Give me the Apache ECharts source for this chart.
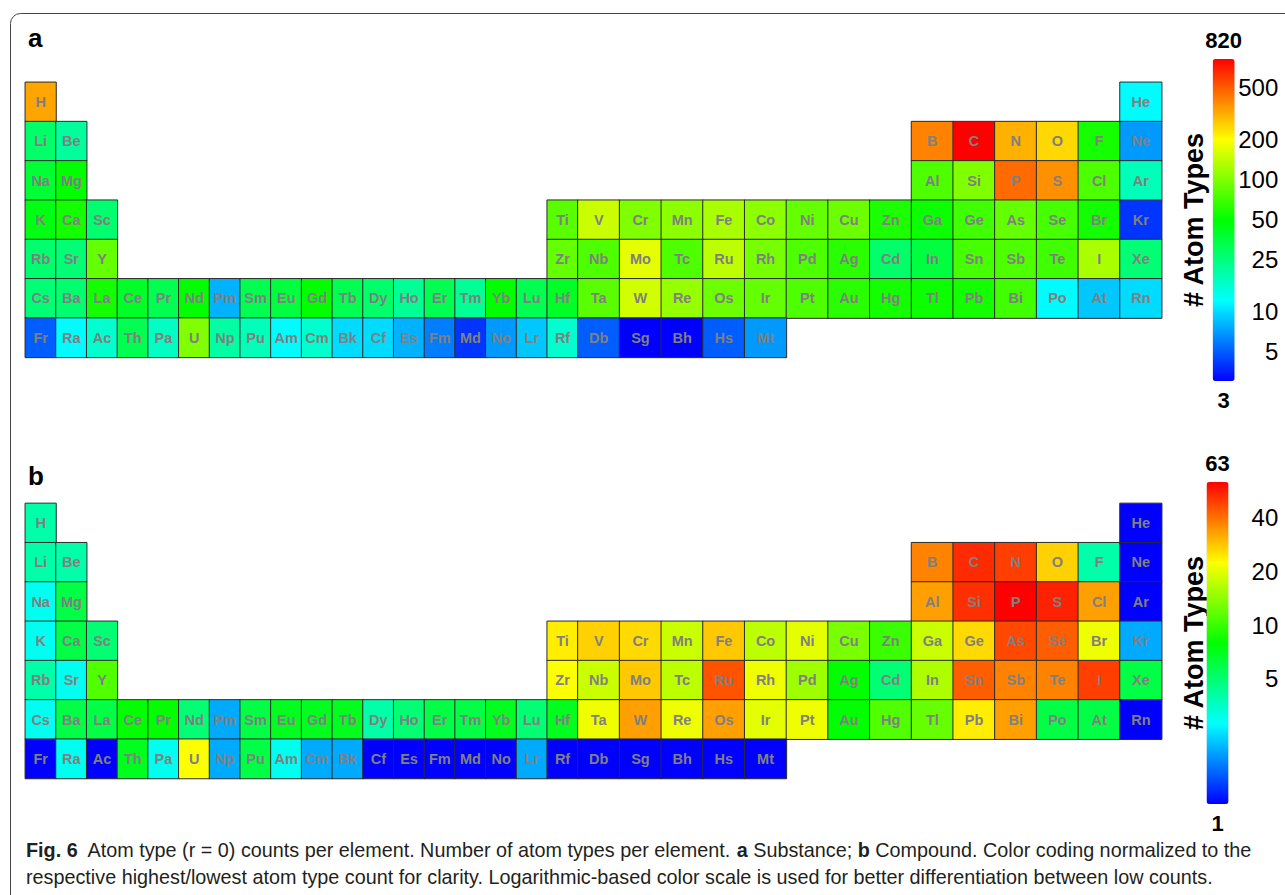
<!DOCTYPE html>
<html><head><meta charset="utf-8">
<script src="https://cdn.jsdelivr.net/npm/echarts@6/dist/echarts.min.js"></script>
<style>html,body{margin:0;padding:0;background:#fff}#c{width:1285px;height:895px}</style>
</head><body><div id="c"></div>
<script>
// ---- element symbols, one array per period (table row) ----
const period1 = ['H','He'];
const period2 = ['Li','Be','B','C','N','O','F','Ne'];
const period3 = ['Na','Mg','Al','Si','P','S','Cl','Ar'];
const period4 = ['K','Ca','Sc','Ti','V','Cr','Mn','Fe','Co','Ni','Cu','Zn','Ga','Ge','As','Se','Br','Kr'];
const period5 = ['Rb','Sr','Y','Zr','Nb','Mo','Tc','Ru','Rh','Pd','Ag','Cd','In','Sn','Sb','Te','I','Xe'];
const period6 = ['Cs','Ba','La','Ce','Pr','Nd','Pm','Sm','Eu','Gd','Tb','Dy','Ho','Er','Tm','Yb','Lu','Hf','Ta','W','Re','Os','Ir','Pt','Au','Hg','Tl','Pb','Bi','Po','At','Rn'];
const period7 = ['Fr','Ra','Ac','Th','Pa','U','Np','Pu','Am','Cm','Bk','Cf','Es','Fm','Md','No','Lr','Rf','Db','Sg','Bh','Hs','Mt'];

// ---- (a) Substance: atom type counts per element ----
const substance1 = [330, 12];
const substance2 = [28, 21, 400, 820, 310, 250, 56, 7];
const substance3 = [37, 50, 76, 100, 455, 370, 76, 18];
const substance4 = [45, 55, 27, 81, 150, 100, 107, 126, 107, 86, 90, 58, 53, 70, 86, 73, 55, 4];
const substance5 = [27, 26, 86, 86, 76, 175, 76, 140, 95, 76, 62, 28, 35, 73, 76, 70, 126, 26];
const substance6 = [26, 27, 55, 40, 32, 50, 8, 32, 35, 50, 32, 28, 22, 32, 22, 50, 32, 40, 81, 157, 113, 90, 86, 76, 62, 55, 53, 55, 70, 12, 9, 10];
const substance7 = [5, 12, 16, 32, 17, 100, 20, 18, 12, 16, 10, 10, 8, 6, 4, 7, 9, 16, 5, 3, 3, 5, 7];

// ---- (b) Compound: atom type counts per element ----
const compound1 = [4, 1];
const compound2 = [4, 4, 37, 53, 49, 27, 4, 1];
const compound3 = [3, 6, 33, 52, 63, 55, 33, 1];
const compound4 = [3, 6, 5, 24, 27, 26, 18, 28, 17, 20, 13, 10, 18, 26, 47, 43, 21, 2];
const compound5 = [4, 3, 11, 22, 18, 28, 17, 45, 21, 15, 8, 5, 16, 43, 37, 37, 49, 6];
const compound6 = [3, 6, 6, 8, 8, 5, 2, 6, 7, 7, 7, 4, 5, 6, 6, 7, 5, 7, 21, 33, 21, 33, 20, 21, 8, 11, 12, 24, 33, 6, 6, 1];
const compound7 = [1, 3, 1, 7, 3, 22, 2, 6, 3, 2, 2, 1, 1, 1, 1, 1, 2, 1, 1, 1, 1, 1, 1];

// ---- colour-bar tick labels ----
const ticksA = [500, 200, 100, 50, 25, 10, 5];
const ticksB = [40, 20, 10, 5];

const periods = [period1, period2, period3, period4, period5, period6, period7];
const substance = [substance1, substance2, substance3, substance4, substance5, substance6, substance7];
const compound = [compound1, compound2, compound3, compound4, compound5, compound6, compound7];
// number of elements in the left block of each row; the rest sit right-aligned at column 32
const leftBlock = [1, 2, 2, 3, 3, 32, 23];
const NARROW = 18, TOTAL = 32;

function build(counts) {
  const narrow = [], wide = [];
  let all = [];
  periods.forEach((syms, r) => {
    const n = syms.length;
    syms.forEach((s, i) => {
      const col = i < leftBlock[r] ? i + 1 : TOTAL - (n - 1 - i);
      const v = counts[r][i];
      all.push(v);
      const item = [0, r, Math.log10(v), s, v];
      if (col <= NARROW) { item[0] = col - 1; narrow.push(item); }
      else { item[0] = col - NARROW - 1; wide.push(item); }
    });
  });
  return { narrow, wide, min: Math.min(...all), max: Math.max(...all) };
}
const A = build(substance), B = build(compound);

const FONT = 'Liberation Sans, Arial, sans-serif';
const CAPFONT = 'Liberation Sans, Arial, sans-serif';
const jet = ['#0000ff', '#00ffff', '#00ff00', '#ffff00', '#ff0000'];
const narrowCats = Array.from({length: NARROW}, (_, i) => String(i + 1));
const wideCats = Array.from({length: TOTAL - NARROW}, (_, i) => String(i + NARROW + 1));
const rowCats = ['1','2','3','4','5','6','7'];

const cellLeft = 25.3, cellW1 = 30.7, cellW2 = 41.7, cellH = 39.3;
const topA = 82.3, topB = 503.4;
const barLeft = 1212.3, barW = 22, barH = 322, barTopA = 59, barTopB = 482;

function tableGrids(top) {
  return [
    { left: cellLeft, top: top, width: cellW1 * NARROW, height: cellH * 7 },
    { left: cellLeft + cellW1 * NARROW, top: top, width: cellW2 * (TOTAL - NARROW), height: cellH * 7 }
  ];
}
const grids = [...tableGrids(topA), ...tableGrids(topB),
  { left: barLeft, top: barTopA, width: barW, height: barH },
  { left: barLeft, top: barTopB, width: barW, height: barH }];

const xAxes = [
  { type: 'category', gridIndex: 0, data: narrowCats, show: false },
  { type: 'category', gridIndex: 1, data: wideCats, show: false },
  { type: 'category', gridIndex: 2, data: narrowCats, show: false },
  { type: 'category', gridIndex: 3, data: wideCats, show: false },
  { type: 'value', gridIndex: 4, show: false },
  { type: 'value', gridIndex: 5, show: false }
];
function tickAxis(grid, lo, hi, ticks) {
  return {
    type: 'log', logBase: 10, gridIndex: grid, min: lo, max: hi, position: 'right',
    axisLine: { show: false }, axisTick: { show: false }, splitLine: { show: false },
    axisLabel: { customValues: ticks, align: 'right', margin: 44, fontSize: 24, color: '#000', fontFamily: FONT,
      formatter: v => String(Math.round(v)) }
  };
}
function nameAxis(grid) {
  return {
    type: 'value', gridIndex: grid, position: 'left', name: '# Atom Types', nameLocation: 'middle',
    nameRotate: 90, nameGap: 5,
    nameTextStyle: { fontSize: 27, fontWeight: 'bold', color: '#000', fontFamily: FONT },
    axisLine: { show: false }, axisTick: { show: false }, axisLabel: { show: false }, splitLine: { show: false }
  };
}
const yAxes = [
  { type: 'category', gridIndex: 0, data: rowCats, inverse: true, show: false },
  { type: 'category', gridIndex: 1, data: rowCats, inverse: true, show: false },
  { type: 'category', gridIndex: 2, data: rowCats, inverse: true, show: false },
  { type: 'category', gridIndex: 3, data: rowCats, inverse: true, show: false },
  tickAxis(4, A.min, A.max, ticksA), nameAxis(4),
  tickAxis(5, B.min, B.max, ticksB), nameAxis(5)
];

function heat(data, idx) {
  return {
    type: 'heatmap', xAxisIndex: idx, yAxisIndex: idx, data: data,
    itemStyle: { borderColor: '#2b2b2b', borderWidth: 1 },
    label: { show: true, formatter: p => p.data[3], color: '#808080', fontSize: 14.5, fontWeight: 'bold', fontFamily: FONT },
    emphasis: { disabled: true }, silent: true
  };
}
function vmap(series, d, top) {
  return {
    type: 'continuous', seriesIndex: series, dimension: 2,
    min: Math.log10(d.min), max: Math.log10(d.max),
    inRange: { color: jet }, calculable: false, hoverLink: false, orient: 'vertical',
    itemWidth: barW, itemHeight: barH, padding: 0,
    text: [String(d.max), String(d.min)], textGap: 8,
    textStyle: { fontSize: 22, fontWeight: 'bold', color: '#000', fontFamily: FONT },
    left: barLeft - 7, top: top
  };
}

const chart = echarts.init(document.getElementById('c'), null, { renderer: 'svg' });
chart.setOption({
  animation: false,
  backgroundColor: '#fff',
  grid: grids, xAxis: xAxes, yAxis: yAxes,
  visualMap: [vmap([0, 1], A, barTopA - 30), vmap([2, 3], B, barTopB - 30)],
  series: [heat(A.narrow, 0), heat(A.wide, 1), heat(B.narrow, 2), heat(B.wide, 3)],
  title: [
    { text: 'a', left: 28, top: 24.5, padding: 0, textStyle: { fontSize: 26, fontWeight: 'bold', color: '#000', fontFamily: FONT } },
    { text: 'b', left: 28, top: 463, padding: 0, textStyle: { fontSize: 26, fontWeight: 'bold', color: '#000', fontFamily: FONT } },
    { left: 26, top: 836, padding: 0,
      text: '{b|Fig. 6}  Atom type (r = 0) counts per element. Number of atom types per element. {b|a} Substance; {b|b} Compound. Color coding normalized to the\nrespective highest/lowest atom type count for clarity. Logarithmic-based color scale is used for better differentiation between low counts.',
      textStyle: { fontSize: 19.8, fontWeight: 'normal', color: '#231f20', fontFamily: CAPFONT, lineHeight: 27,
        rich: { b: { fontSize: 19.8, fontWeight: 'bold', color: '#231f20', fontFamily: CAPFONT, lineHeight: 27 } } } }
  ],
  graphic: [{ type: 'rect', silent: true, shape: { x: 10.5, y: 13.5, width: 1400, height: 1000, r: 10 },
    style: { fill: 'none', stroke: '#444', lineWidth: 1 } }]
});
</script></body></html>
